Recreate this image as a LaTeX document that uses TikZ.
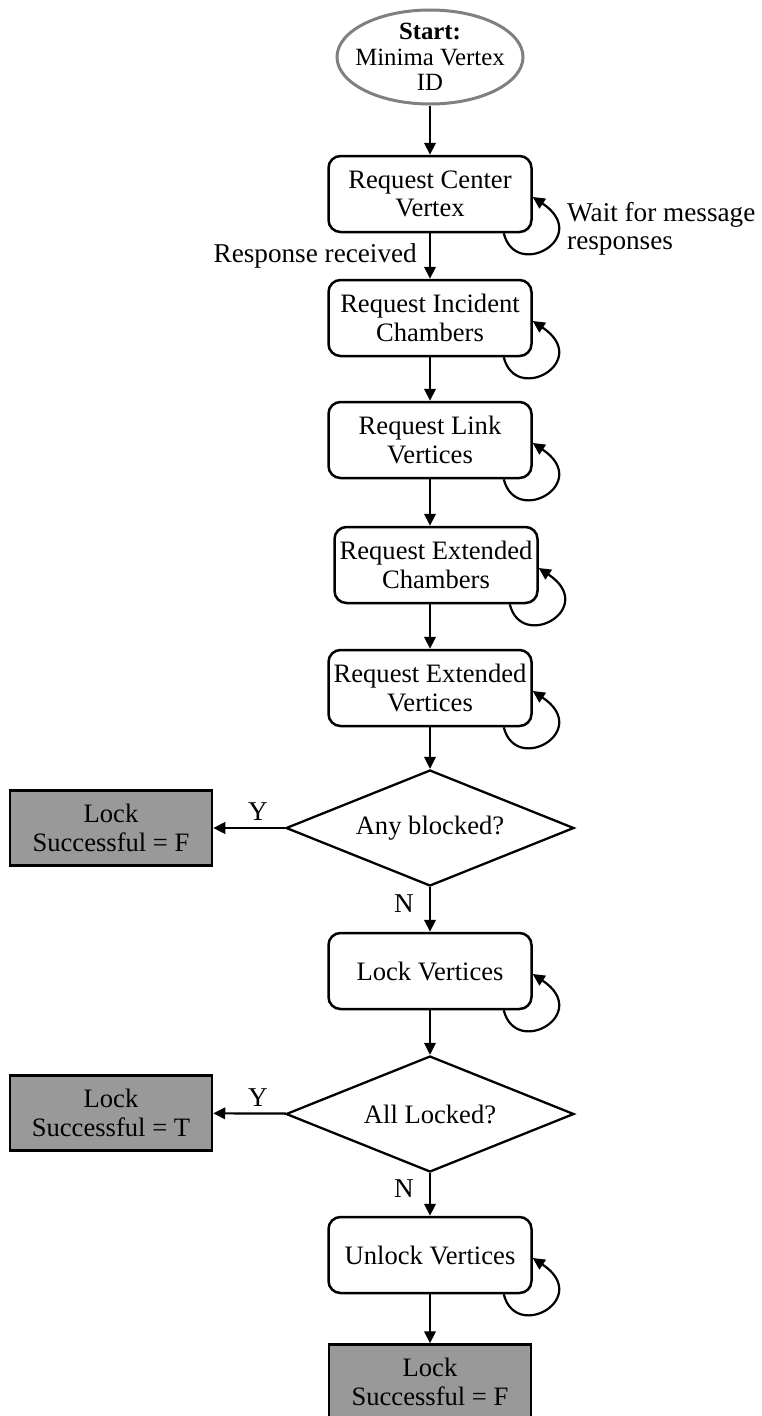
\documentclass[tikz,border=0pt]{standalone}
\usepackage{fontspec}
\setmainfont{Liberation Serif}
\usetikzlibrary{arrows.meta,shapes.geometric}
\newcommand\bxfont{\fontsize{26.6pt}{28.5pt}\selectfont}
\newcommand\lbfont{\fontsize{27.2pt}{28pt}\selectfont}
\newcommand\stfont{\fontsize{24.8pt}{25.5pt}\selectfont}
\newcommand\waitloop[1]{\draw[arr] ([xshift=-29pt]#1.south east) .. controls +(12,48) and +(60,40) .. ([yshift=-3pt]#1.east);}
\begin{document}
\begin{tikzpicture}[x=1pt,y=-1pt,
  box/.style={draw, line width=2.5pt, rounded corners=12pt, minimum width=203pt, minimum height=76pt, align=center, font=\bxfont, inner sep=1pt},
  gbox/.style={draw, line width=2.5pt, fill=black!40, minimum width=202pt, minimum height=75pt, align=center, font=\bxfont, inner sep=1pt},
  dec/.style={draw, diamond, aspect=2.5, line width=2.3pt, minimum width=288pt, minimum height=116pt, inner sep=0pt, font=\bxfont},
  startshape/.style={draw=black!50, line width=3pt, ellipse, minimum width=186pt, minimum height=94pt, inner sep=0pt},
  arr/.style={line width=2.2pt, -{Triangle[length=12pt,width=11.5pt]}},
  lbl/.style={font=\lbfont, inner sep=0pt}]
\useasboundingbox (0,0) rectangle (761,1416);
\node[startshape] (start) at (430,57) {};
\node[align=center, font=\stfont] (starttxt) at (start) {\textbf{Start:}\\Minima Vertex\\ID};
\node[box] (b1) at (430,194) {Request Center\\Vertex};
\node[box] (b2) at (430,318) {Request Incident\\Chambers};
\node[box] (b3) at (430,440) {Request Link\\Vertices};
\node[box] (b4) at (436,565) {Request Extended\\Chambers};
\node[box] (b5) at (430,688) {Request Extended\\Vertices};
\node[dec] (d1) at (430,828) {Any blocked?};
\node[gbox] (g1) at (111,828) {Lock\\Successful = F};
\node[box] (b6) at (430,971) {Lock Vertices};
\node[dec] (d2) at (430,1114) {All Locked?};
\node[gbox] (g2) at (111,1113) {Lock\\Successful = T};
\node[box] (b7) at (430,1255) {Unlock Vertices};
\node[gbox] (g3) at (430,1382) {Lock\\Successful = F};
\node[lbl, anchor=east] (resp) at (417,256) {Response received};
\node[lbl, anchor=west, align=left] (wait) at (567,229) {Wait for message\\responses};
\node[lbl] (y1) at (258,812) {Y};
\node[lbl] (n1) at (404,904) {N};
\node[lbl] (y2) at (258,1098) {Y};
\node[lbl] (n2) at (404,1189) {N};
\draw[arr] (start) -- (b1);
\draw[arr] (b1) -- (b2);
\draw[arr] (b2) -- (b3);
\draw[arr] (b3.south) -- (b3.south |- b4.north);
\draw[arr] (b5.north |- b4.south) -- (b5.north);
\draw[arr] (b5) -- (d1);
\draw[arr] (d1) -- (g1);
\draw[arr] (d1) -- (b6);
\draw[arr] (b6) -- (d2);
\draw[arr] (d2) -- (g2);
\draw[arr] (d2) -- (b7);
\draw[arr] (b7) -- (g3);
\waitloop{b1}
\waitloop{b2}
\waitloop{b3}
\waitloop{b4}
\waitloop{b5}
\waitloop{b6}
\waitloop{b7}
\end{tikzpicture}
\end{document}
